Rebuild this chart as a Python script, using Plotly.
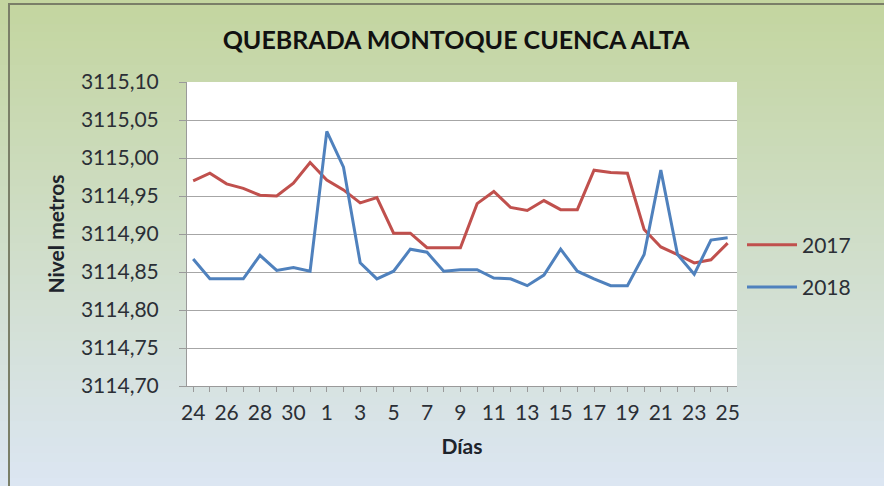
import plotly.graph_objects as go

dias = ["24", "25", "26", "27", "28", "29", "30", "31"] + [str(d) for d in range(1, 26)]

nivel_2017 = [3114.970, 3114.980, 3114.966, 3114.960, 3114.951, 3114.950, 3114.967, 3114.994,
              3114.971, 3114.958, 3114.941, 3114.948, 3114.901, 3114.901, 3114.882, 3114.882,
              3114.882, 3114.940, 3114.956, 3114.935, 3114.931, 3114.944, 3114.932, 3114.932,
              3114.984, 3114.981, 3114.980, 3114.906, 3114.883, 3114.873, 3114.862, 3114.866,
              3114.888]

nivel_2018 = [3114.867, 3114.841, 3114.841, 3114.841, 3114.872, 3114.852, 3114.856, 3114.851,
              3115.035, 3114.988, 3114.862, 3114.841, 3114.851, 3114.880, 3114.876, 3114.851,
              3114.853, 3114.853, 3114.842, 3114.841, 3114.832, 3114.846, 3114.880, 3114.851,
              3114.841, 3114.832, 3114.832, 3114.873, 3114.984, 3114.873, 3114.847, 3114.892,
              3114.895]

FONT = "Lato"
W, H = 884, 486
L, R, T, B = 187, 147, 82, 100
pw, ph = W - L - R, H - T - B

idx = list(range(len(dias)))

fig = go.Figure()
fig.add_trace(go.Scatter(x=idx, y=nivel_2017, name="2017", mode="lines",
                         line=dict(color="#c0504d", width=3), legendgroup="a"))
fig.add_trace(go.Scatter(x=idx, y=nivel_2018, name="2018", mode="lines",
                         line=dict(color="#4f81bd", width=3), legendgroup="b"))


def px_x(v):
    return (v - L) / pw


def px_y(v):
    return (H - B - v) / ph


# background gradient green -> light blue, drawn as thin bands
top_c = (196, 214, 160)
bot_c = (220, 230, 242)
n = 60
shapes = []
for i in range(n):
    f = i / (n - 1)
    c = tuple(int(top_c[k] + (bot_c[k] - top_c[k]) * f) for k in range(3))
    y0 = i * H / n
    y1 = (i + 1) * H / n + 1
    shapes.append(dict(type="rect", xref="paper", yref="paper", layer="below",
                       x0=px_x(0), x1=px_x(W), y0=px_y(y1), y1=px_y(y0),
                       fillcolor="rgb(%d,%d,%d)" % c, line=dict(width=0)))
shapes.append(dict(type="rect", xref="paper", yref="paper", layer="below",
                   x0=0, x1=1, y0=0, y1=1, fillcolor="white", line=dict(width=0)))
# chart frame: only the left and top edges are inside the picture
shapes.append(dict(type="rect", xref="paper", yref="paper", layer="below",
                   x0=px_x(9), x1=px_x(W + 10), y0=px_y(H + 10), y1=px_y(4),
                   line=dict(color="#7a7f68", width=2)))

fig.update_layout(
    width=W, height=H,
    margin=dict(l=L, r=R, t=T, b=B),
    paper_bgcolor="#d4dfd0",
    plot_bgcolor="white",
    separators=",.",
    shapes=shapes,
    font=dict(family=FONT, size=21, color="#2b2f36"),
    title=dict(text="<b>QUEBRADA MONTOQUE CUENCA ALTA</b>", x=456 / W, xanchor="center",
               y=1 - 40 / H, yanchor="middle", font=dict(family=FONT, size=25, color="#111")),
    showlegend=True,
    legend=dict(x=px_x(742), y=px_y(266), xanchor="left", yanchor="middle",
                bgcolor="rgba(0,0,0,0)", traceorder="grouped", tracegroupgap=12,
                itemwidth=50, font=dict(family=FONT, size=21, color="#2b2f36")),
)

fig.update_xaxes(
    range=[-0.37, 32.56],
    tickmode="array", tickvals=idx,
    ticktext=[d if i % 2 == 0 else "" for i, d in enumerate(dias)],
    ticks="outside", ticklen=5, tickcolor="#9a9a9a", ticklabelstandoff=3,
    showline=True, linecolor="#9a9a9a", linewidth=1,
    showgrid=False, zeroline=False,
    tickfont=dict(size=21, color="#2b2f36"),
    title=dict(text="<b>Días</b>", standoff=16, font=dict(size=21, color="#1d232b")),
)

fig.update_yaxes(
    range=[3114.70, 3115.10], dtick=0.05, tick0=3114.70, tickformat=".2f",
    ticks="outside", ticklen=7, tickcolor="#9a9a9a", ticklabelstandoff=16,
    showline=True, linecolor="#9a9a9a", linewidth=1,
    showgrid=True, gridcolor="#a6a6a6", gridwidth=1, zeroline=False,
    tickfont=dict(size=21, color="#2b2f36"),
    title=dict(text="<b>Nivel metros</b>", standoff=10, font=dict(size=21, color="#1d232b")),
)

# drop the default 8px page margin so the figure sits at the window origin
fig.write_html("out.html", config={"displayModeBar": False},
               post_script="document.body.style.margin='0';")
